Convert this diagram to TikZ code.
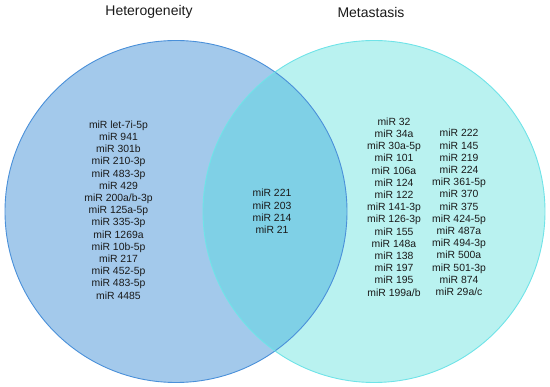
\documentclass[tikz,border=0pt]{standalone}
\usepackage{fontspec}
\setmainfont{Liberation Sans}
\definecolor{hetfill}{HTML}{A3C9EB}
\definecolor{hetline}{HTML}{4A90D9}
\definecolor{metfill}{HTML}{B9F2F0}
\definecolor{metline}{HTML}{6FE3E8}
\definecolor{bothfill}{HTML}{7FD0E6}
\definecolor{txt}{HTML}{1A1A1A}
\begin{document}
\begin{tikzpicture}[x=1pt,y=-1pt,
  title/.style={font=\fontsize{14}{16}\selectfont, text=txt, inner sep=0pt},
  mirlist/.style={font=\fontsize{10.4}{12.2}\selectfont, text=txt, align=center, inner sep=0pt}]
\useasboundingbox (0,0) rectangle (550,387);
% circles
\fill[hetfill] (176,211.5) circle[radius=171];
\fill[metfill] (374,211.5) circle[radius=171];
\begin{scope}
  \clip (176,211.5) circle[radius=171];
  \fill[bothfill] (374,211.5) circle[radius=171];
\end{scope}
\node[circle, draw=hetline, line width=0.9pt, minimum size=342pt, inner sep=0pt] (het) at (176,211.5) {};
\node[circle, draw=metline, line width=0.9pt, minimum size=342pt, inner sep=0pt] (met) at (374,211.5) {};
% titles
\node[title] (thet) at (149,12) {Heterogeneity};
\node[title] (tmet) at (371,12) {Metastasis};
% lists
\node[mirlist] (lhet) at (118.5,210) {miR let-7i-5p\\miR 941\\miR 301b\\miR 210-3p\\miR 483-3p\\miR 429\\miR 200a/b-3p\\miR 125a-5p\\miR 335-3p\\miR 1269a\\miR 10b-5p\\miR 217\\miR 452-5p\\miR 483-5p\\miR 4485};
\node[mirlist] (lboth) at (272,211.5) {miR 221\\miR 203\\miR 214\\miR 21};
\node[mirlist] (lmet1) at (394,207) {miR 32\\miR 34a\\miR 30a-5p\\miR 101\\miR 106a\\miR 124\\miR 122\\miR 141-3p\\miR 126-3p\\miR 155\\miR 148a\\miR 138\\miR 197\\miR 195\\miR 199a/b};
\node[mirlist] (lmet2) at (459,212.5) {miR 222\\miR 145\\miR 219\\miR 224\\miR 361-5p\\miR 370\\miR 375\\miR 424-5p\\miR 487a\\miR 494-3p\\miR 500a\\miR 501-3p\\miR 874\\miR 29a/c};
\end{tikzpicture}
\end{document}
